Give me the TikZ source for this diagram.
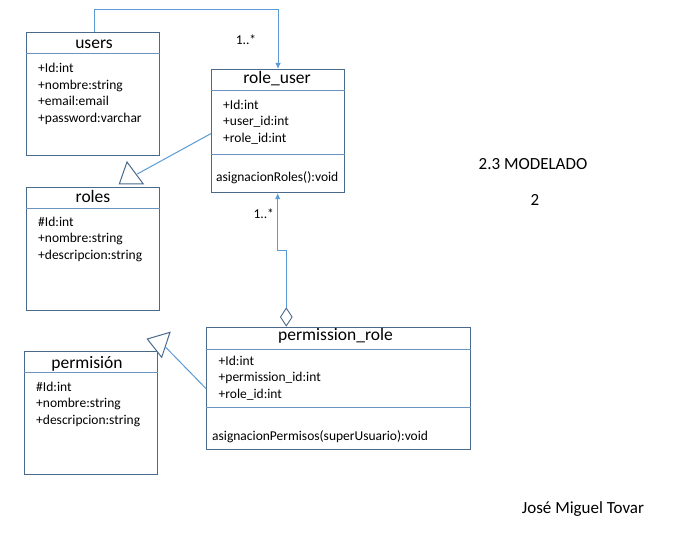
\documentclass[tikz,border=0pt]{standalone}
\usepackage{fontspec}
\setmainfont{Carlito}
\usetikzlibrary{arrows.meta,shapes.geometric}
\definecolor{bordc}{HTML}{4A6A8C}
\definecolor{sepc}{HTML}{6C94C0}
\definecolor{connc}{HTML}{5B9BD5}
\begin{document}
\begin{tikzpicture}[x=1pt,y=-1pt,
 cls/.style={draw=bordc,line width=1.1pt,inner sep=0pt,anchor=north west},
 sepl/.style={draw=sepc,line width=0.9pt},
 ttl/.style={font=\fontsize{17.5}{20}\selectfont,inner sep=0pt,anchor=base},
 attr/.style={font=\fontsize{13.5}{16}\selectfont,inner sep=0pt,anchor=base west},
 conn/.style={draw=connc,line width=1pt},
 tri/.style={draw=bordc,line width=1pt,fill=white},
 lbl/.style={font=\fontsize{13.5}{16}\selectfont,inner sep=0pt,anchor=base},
 big/.style={font=\fontsize{17}{20}\selectfont,inner sep=0pt,anchor=base}]
\useasboundingbox[fill=white] (0,0) rectangle (697,556);

% users
\node[cls,minimum width=133,minimum height=123] (users) at (26,32) {};
\draw[sepl] (users.north west |- 0,53) -- (users.north east |- 0,53);
\node[ttl] (usersT) at (94,49) {users};
\node[attr] (u1) at (38,73) {+Id:int};
\node[attr] (u2) at (38,89.5) {+nombre:string};
\node[attr] (u3) at (38,106) {+email:email};
\node[attr] (u4) at (38,122.5) {+password:varchar};

% role_user
\node[cls,minimum width=133,minimum height=123] (ru) at (211,69) {};
\draw[sepl] (ru.north west |- 0,90) -- (ru.north east |- 0,90);
\draw[sepl] (ru.north west |- 0,154) -- (ru.north east |- 0,154);
\node[ttl] (ruT) at (277,84) {role\_user};
\node[attr] (r1) at (223,109.5) {+Id:int};
\node[attr] (r2) at (223,126) {+user\_id:int};
\node[attr] (r3) at (223,142.5) {+role\_id:int};
\node[attr] (r4) at (216,181.5) {asignacionRoles():void};

% roles
\node[cls,minimum width=133,minimum height=123] (roles) at (26,187) {};
\draw[sepl] (roles.north west |- 0,208) -- (roles.north east |- 0,208);
\node[ttl] (rolesT) at (93,202.7) {roles};
\node[attr] (o1) at (38,226.5) {\#Id:int};
\node[attr] (o2) at (38,243) {+nombre:string};
\node[attr] (o3) at (38,259.5) {+descripcion:string};

% permission_role
\node[cls,minimum width=264,minimum height=122] (pr) at (206,327) {};
\draw[sepl] (pr.north west |- 0,349) -- (pr.north east |- 0,349);
\draw[sepl] (pr.north west |- 0,407) -- (pr.north east |- 0,407);
\node[ttl] (prT) at (335.5,340.7) {permission\_role};
\node[attr] (p1) at (218.5,365.5) {+Id:int};
\node[attr] (p2) at (218.5,382) {+permission\_id:int};
\node[attr] (p3) at (218.5,398.5) {+role\_id:int};
\node[attr] (p4) at (212,440) {asignacionPermisos(superUsuario):void};

% permision
\node[cls,minimum width=133,minimum height=123] (pe) at (24,351) {};
\draw[sepl] (pe.north west |- 0,372) -- (pe.north east |- 0,372);
\node[ttl] (peT) at (87,368.3) {permisión};
\node[attr] (e1) at (36,391.5) {\#Id:int};
\node[attr] (e2) at (36,408) {+nombre:string};
\node[attr] (e3) at (36,424.5) {+descripcion:string};

% users -> role_user
\draw[conn,-{Latex[length=6pt,width=5.5pt]}] ([xshift=1.8pt]users.north) -- ++(0,-22) -| (ru.north);
\node[lbl] (m1) at (246,45) {1..*};

% role_user -> roles (generalization)
\coordinate (t1e) at (137.3,174);
\draw[conn] ([yshift=-2.5pt]ru.west) -- (t1e);
\draw[tri] (127,162) -- (119.3,184) -- (143.3,184) -- cycle;

% permission_role -> permision (generalization)
\coordinate (t2e) at (165.7,347.3);
\draw[conn] (pr.west) -- (t2e);
\draw[tri] (147.3,339) -- (170,332.3) -- (161.7,357.3) -- cycle;

% permission_role -> role_user (aggregation)
\node[diamond,draw=bordc,line width=0.9pt,fill=white,inner sep=0pt,minimum width=12,minimum height=18,aspect=0.67] (dia) at (286.3,317) {};
\coordinate (bend) at (277.7,251);
\draw[conn,-{Latex[length=6pt,width=5.5pt]}] (dia.north) |- (bend) -- (bend |- ru.south);
\node[lbl] (m2) at (263.7,218.3) {1..*};

% free text
\node[big] (title) at (533,170) {2.3 MODELADO};
\node[big] (num) at (535,206) {2};
\node[big] (author) at (583,513) {José Miguel Tovar};
\end{tikzpicture}
\end{document}
